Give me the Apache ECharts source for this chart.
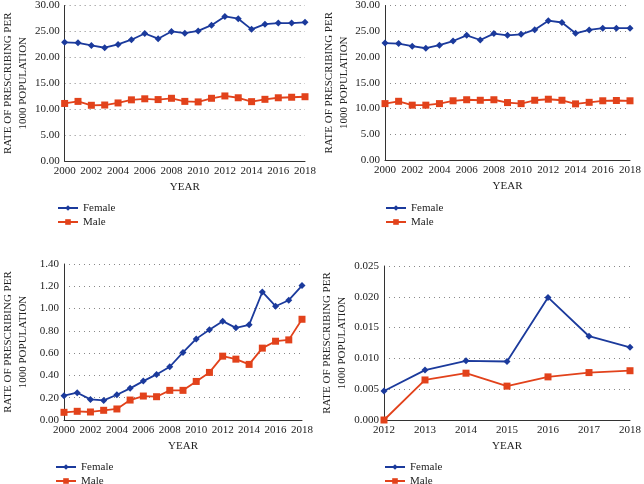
<!DOCTYPE html>
<html><head><meta charset="utf-8">
<script src="https://cdn.jsdelivr.net/npm/echarts@6/dist/echarts.min.js"></script>
<style>html,body{margin:0;padding:0;background:#fff}#c{width:644px;height:484px}</style>
</head><body><div id="c"></div>
<script>
const years = ['2000','2001','2002','2003','2004','2005','2006','2007','2008','2009','2010','2011','2012','2013','2014','2015','2016','2017','2018'];
const years4 = ['2012','2013','2014','2015','2016','2017','2018'];

const p1Female = [22.9,22.8,22.3,21.85,22.5,23.4,24.6,23.6,25.0,24.65,25.1,26.2,27.9,27.45,25.4,26.4,26.6,26.6,26.75];
const p1Male   = [11.1,11.5,10.75,10.8,11.2,11.8,12.0,11.85,12.1,11.5,11.4,12.1,12.55,12.2,11.45,11.9,12.2,12.3,12.4];
const p2Female = [22.7,22.6,22.1,21.7,22.3,23.1,24.2,23.3,24.55,24.2,24.4,25.3,27.05,26.7,24.6,25.25,25.6,25.6,25.6];
const p2Male   = [10.95,11.4,10.65,10.65,10.95,11.5,11.7,11.6,11.7,11.15,10.95,11.6,11.8,11.6,10.9,11.2,11.5,11.55,11.5];
const p3Female = [0.218,0.245,0.185,0.176,0.227,0.284,0.349,0.409,0.478,0.606,0.728,0.809,0.887,0.827,0.854,1.149,1.021,1.075,1.206];
const p3Male   = [0.069,0.078,0.072,0.087,0.099,0.179,0.215,0.209,0.266,0.266,0.346,0.427,0.573,0.546,0.499,0.645,0.707,0.719,0.904];
const p4Female = [0.0047,0.0081,0.0096,0.0095,0.0199,0.0136,0.0118];
const p4Male   = [0.0,0.0065,0.0076,0.0055,0.0070,0.0077,0.0080];

const yMax = [30, 30, 1.4, 0.025];
const yStep = [5, 5, 0.2, 0.005];
const yDec = [2, 2, 2, 3];

const BLUE = '#1b3a9c', RED = '#e2421b', TXT = '#222', FONT = 'Liberation Serif';
const grids = [
  {left:57, top:4, width:248, height:157},
  {left:385, top:4, width:249, height:156},
  {left:55, top:264, width:247, height:156},
  {left:384, top:266, width:246, height:154}
];
const legendPos = [
  {left:57, top:202},
  {left:385, top:202},
  {left:55, top:461},
  {left:384, top:461}
];
const cats = [years, years, years, years4];
const data = [[p1Female,p1Male],[p2Female,p2Male],[p3Female,p3Male],[p4Female,p4Male]];

const option = {
  animation:false,
  textStyle:{fontFamily:FONT, color:TXT},
  grid: grids.map(g => Object.assign({containLabel:false}, g)),
  legend: legendPos.map((p,i) => ({
    left:p.left, top:p.top, width:120, height:40, padding:0,
    orient:'vertical', itemGap:2, itemWidth:20, itemHeight:7,
    textStyle:{fontFamily:FONT, fontSize:11, color:TXT, lineHeight:12},
    data:['Female'+'\u200b'.repeat(i), 'Male'+'\u200b'.repeat(i)]
  })),
  xAxis: cats.map((c,i) => ({
    type:'category', gridIndex:i, data:c, boundaryGap:false,
    name:'YEAR', nameLocation:'middle', nameGap:21,
    nameTextStyle:{fontFamily:FONT, fontSize:11, color:TXT},
    axisLine:{lineStyle:{color:'#333', width:1}},
    axisTick:{show:false},
    axisLabel:{interval: i<3 ? 1 : 0, fontFamily:FONT, fontSize:11, color:TXT, margin:5},
    splitLine:{show:false}
  })),
  yAxis: yMax.map((m,i) => ({
    type:'value', gridIndex:i, min:0, max:m, interval:yStep[i],
    name:'RATE OF PRESCRIBING PER\n1000 POPULATION', nameLocation:'middle', nameRotate:90,
    nameGap: i===3 ? 34 : 33,
    nameTextStyle:{fontFamily:FONT, fontSize:11, color:TXT, lineHeight:15},
    axisLine:{show:true, lineStyle:{color:'#333', width:1}},
    axisTick:{show:false},
    axisLabel:{fontFamily:FONT, fontSize:11, color:TXT, margin:5,
      formatter: v => v.toFixed(yDec[i])},
    splitLine:{show:true, lineStyle:{type:[1,4], color:'#888', width:1}}
  })),
  series: []
};
data.forEach((d,i) => {
  option.series.push({
    name:'Female'+'\u200b'.repeat(i), type:'line', xAxisIndex:i, yAxisIndex:i, data:d[0],
    symbol:'diamond', symbolSize:7, color:BLUE,
    lineStyle:{color:BLUE, width:1.8}, itemStyle:{color:BLUE}
  });
  option.series.push({
    name:'Male'+'\u200b'.repeat(i), type:'line', xAxisIndex:i, yAxisIndex:i, data:d[1],
    symbol:'rect', symbolSize:7, color:RED,
    lineStyle:{color:RED, width:1.8}, itemStyle:{color:RED}
  });
});
const chart = echarts.init(document.getElementById('c'), null, {renderer:'canvas'});
chart.setOption(option);
</script></body></html>
